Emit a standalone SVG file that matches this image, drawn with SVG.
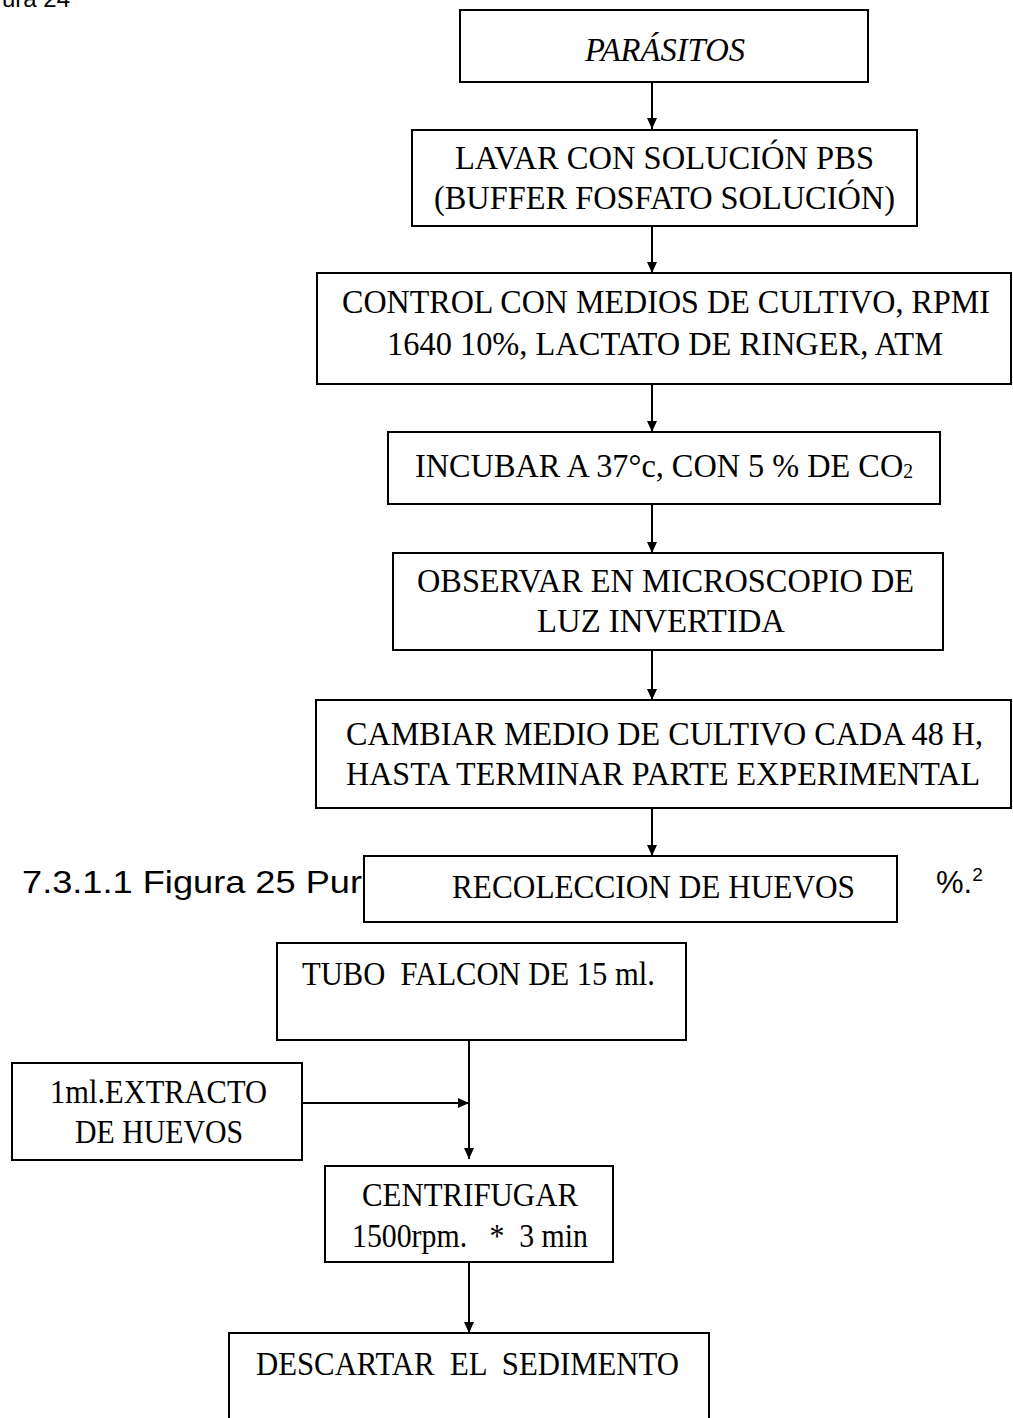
<svg xmlns="http://www.w3.org/2000/svg" width="1013" height="1418" viewBox="0 0 1013 1418">
<style>
.bg{fill:#fff}
.box{fill:#fff;stroke:#000;stroke-width:2}
.t{font-family:"Liberation Serif","Times New Roman",serif;font-size:33px;fill:#000}
.it{font-style:italic}
.a{font-family:"Liberation Sans",Arial,sans-serif;fill:#000}
.ln{fill:none;stroke:#000;stroke-width:2}
</style>
<defs>
<marker id="ah" markerUnits="userSpaceOnUse" markerWidth="12" markerHeight="11" refX="11" refY="5.5" orient="auto">
<path d="M0,0.5 L11,5.5 L0,10.5 Z" fill="#000"/>
</marker>
</defs>
<rect class="bg" x="0" y="0" width="1013" height="1418"/>
<g id="page-text">
<text class="a" x="2" y="7" font-size="24">ura 24</text>
<text class="a" x="22" y="893" font-size="32" textLength="340" lengthAdjust="spacingAndGlyphs">7.3.1.1 Figura 25 Pur</text>
<text class="a" x="936" y="893" font-size="31">%.<tspan font-size="19" dy="-12">2</tspan></text>
</g>
<g id="connectors">
<line class="ln" x1="652" y1="82" x2="652" y2="129" marker-end="url(#ah)"/>
<line class="ln" x1="652" y1="226" x2="652" y2="273" marker-end="url(#ah)"/>
<line class="ln" x1="652" y1="384" x2="652" y2="432" marker-end="url(#ah)"/>
<line class="ln" x1="652" y1="504" x2="652" y2="553" marker-end="url(#ah)"/>
<line class="ln" x1="652" y1="650" x2="652" y2="700" marker-end="url(#ah)"/>
<line class="ln" x1="652" y1="808" x2="652" y2="856" marker-end="url(#ah)"/>
<line class="ln" x1="469" y1="1040" x2="469" y2="1159" marker-end="url(#ah)"/>
<line class="ln" x1="302" y1="1103" x2="469" y2="1103" marker-end="url(#ah)"/>
<line class="ln" x1="469" y1="1262" x2="469" y2="1333" marker-end="url(#ah)"/>
</g>
<g id="n-parasitos">
<rect class="box" x="460" y="10" width="408" height="72"/>
<text class="t it" x="585" y="61" textLength="160" lengthAdjust="spacingAndGlyphs">PARÁSITOS</text>
</g>
<g id="n-lavar">
<rect class="box" x="412" y="130" width="505" height="96"/>
<text class="t" x="455" y="169" textLength="419" lengthAdjust="spacingAndGlyphs">LAVAR CON SOLUCIÓN PBS</text>
<text class="t" x="434" y="209" textLength="461" lengthAdjust="spacingAndGlyphs">(BUFFER FOSFATO SOLUCIÓN)</text>
</g>
<g id="n-control">
<rect class="box" x="317" y="273" width="694" height="111"/>
<text class="t" x="342" y="313" textLength="648" lengthAdjust="spacingAndGlyphs">CONTROL CON MEDIOS DE CULTIVO, RPMI</text>
<text class="t" x="387" y="355" textLength="556" lengthAdjust="spacingAndGlyphs">1640 10%, LACTATO DE RINGER, ATM</text>
</g>
<g id="n-incubar">
<rect class="box" x="388" y="432" width="552" height="72"/>
<text class="t" x="415" y="477" textLength="498" lengthAdjust="spacingAndGlyphs">INCUBAR A 37°c, CON 5 % DE CO<tspan font-size="20" dy="1">2</tspan></text>
</g>
<g id="n-observar">
<rect class="box" x="393" y="553" width="550" height="97"/>
<text class="t" x="417" y="592" textLength="497" lengthAdjust="spacingAndGlyphs">OBSERVAR EN MICROSCOPIO DE</text>
<text class="t" x="537" y="632" textLength="248" lengthAdjust="spacingAndGlyphs">LUZ INVERTIDA</text>
</g>
<g id="n-cambiar">
<rect class="box" x="316" y="700" width="695" height="108"/>
<text class="t" x="346" y="745" textLength="637" lengthAdjust="spacingAndGlyphs">CAMBIAR MEDIO DE CULTIVO CADA 48 H,</text>
<text class="t" x="346" y="785" textLength="634" lengthAdjust="spacingAndGlyphs">HASTA TERMINAR PARTE EXPERIMENTAL</text>
</g>
<g id="n-recoleccion">
<rect class="box" x="364" y="856" width="533" height="66"/>
<text class="t" x="452" y="898" textLength="403" lengthAdjust="spacingAndGlyphs">RECOLECCION DE HUEVOS</text>
</g>
<g id="n-tubo">
<rect class="box" x="277" y="943" width="409" height="97"/>
<text class="t" x="302" y="985" textLength="353" lengthAdjust="spacingAndGlyphs" xml:space="preserve">TUBO  FALCON DE 15 ml.</text>
</g>
<g id="n-extracto">
<rect class="box" x="12" y="1063" width="290" height="97"/>
<text class="t" x="50" y="1103" textLength="217" lengthAdjust="spacingAndGlyphs">1ml.EXTRACTO</text>
<text class="t" x="75" y="1143" textLength="168" lengthAdjust="spacingAndGlyphs">DE HUEVOS</text>
</g>
<g id="n-centrifugar">
<rect class="box" x="325" y="1166" width="288" height="96"/>
<text class="t" x="362" y="1206" textLength="216" lengthAdjust="spacingAndGlyphs">CENTRIFUGAR</text>
<text class="t" x="352" y="1247" textLength="236" lengthAdjust="spacingAndGlyphs" xml:space="preserve">1500rpm.   *  3 min</text>
</g>
<g id="n-descartar">
<rect class="box" x="229" y="1333" width="480" height="100"/>
<text class="t" x="256" y="1375" textLength="423" lengthAdjust="spacingAndGlyphs" xml:space="preserve">DESCARTAR  EL  SEDIMENTO</text>
</g>
</svg>
